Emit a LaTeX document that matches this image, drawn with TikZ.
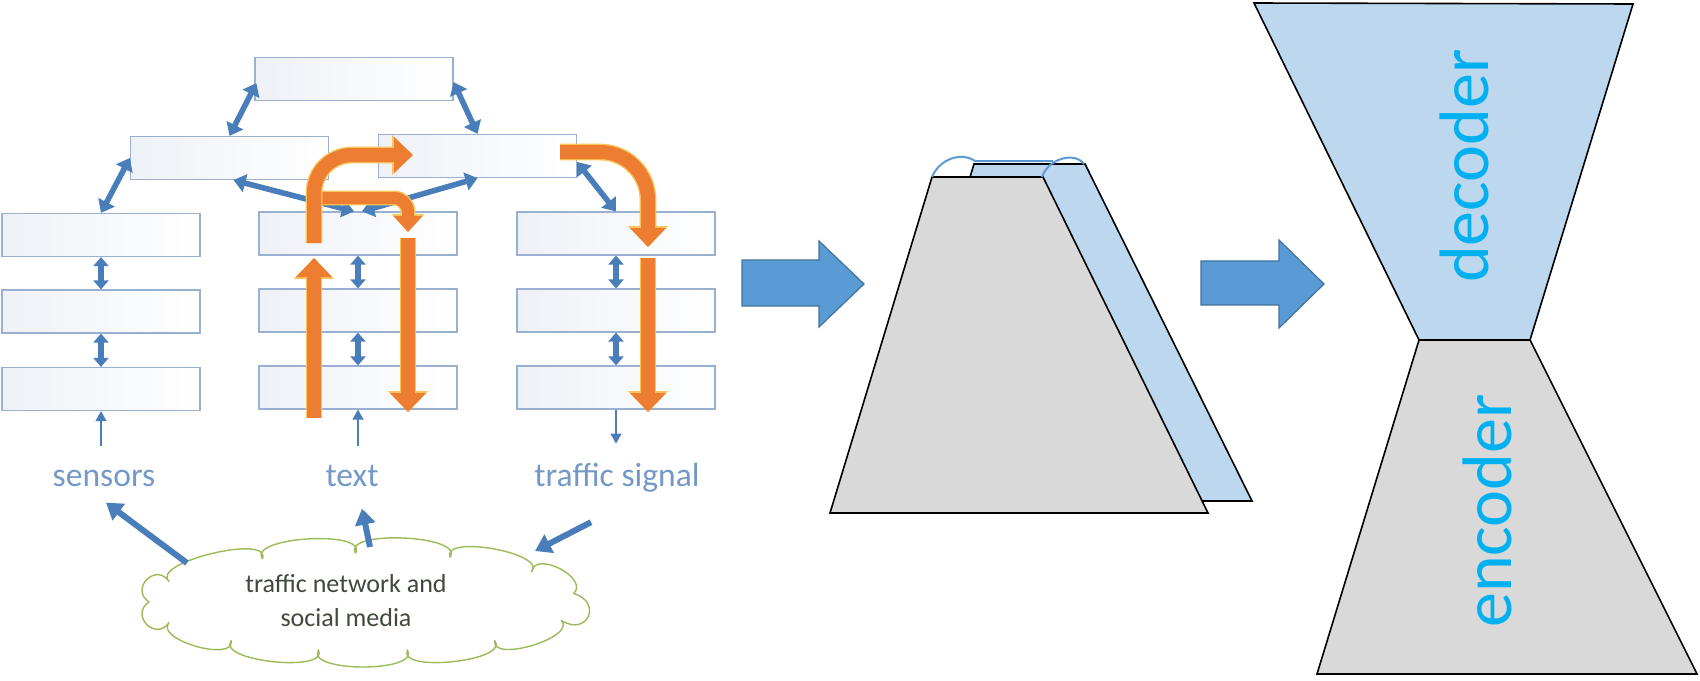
\documentclass[tikz,border=0pt]{standalone}
\usepackage{fontspec}
\setmainfont{Carlito}
\usetikzlibrary{arrows.meta,calc}
\definecolor{boxline}{HTML}{9AB0D0}
\definecolor{boxfill}{HTML}{EEF1F7}
\definecolor{linkblue}{HTML}{4A7EBB}
\definecolor{lblblue}{HTML}{7499C6}
\definecolor{orng}{HTML}{ED7D31}
\definecolor{orngedge}{HTML}{F9C55A}
\definecolor{cloudline}{HTML}{9BBB59}
\definecolor{cloudtext}{HTML}{3F4A3C}
\definecolor{blockfill}{HTML}{5B9BD5}
\definecolor{blockline}{HTML}{41719C}
\definecolor{paleblue}{HTML}{BDD7EE}
\definecolor{palegray}{HTML}{D9D9D9}
\definecolor{cyantext}{HTML}{00B0F0}
\definecolor{rimblue}{HTML}{5B9BD5}
\begin{document}
\begin{tikzpicture}[x=0.5pt,y=-0.5pt,
  layerbox/.style={draw=boxline, line width=0.6pt, left color=boxfill, right color=white,
    minimum width=99pt, minimum height=21.5pt, inner sep=0pt},
  linkarrow/.style={draw=linkblue, line width=2.8pt,
    arrows={Triangle[length=6pt,width=9pt]-Triangle[length=6pt,width=9pt]}},
  rowarrow/.style={draw=linkblue, line width=2.6pt,
    arrows={Triangle[length=4.5pt,width=7.5pt]-Triangle[length=4.5pt,width=7.5pt]}},
  thinarrow/.style={draw=linkblue, line width=0.6pt, arrows={-Triangle[length=5pt,width=5.5pt]}},
  cloudarrow/.style={draw=linkblue, line width=3pt, arrows={-Triangle[length=8pt,width=10pt]}},
  orangeedge/.style={draw=orngedge, line width=8.4pt, arrows={-Triangle[length=10.5pt,width=19.5pt]}},
  orangebody/.style={draw=orng, line width=7pt, arrows={-Triangle[length=9.5pt,width=17.5pt]}},
  orangeedgesm/.style={draw=orngedge, line width=7.4pt, arrows={-Triangle[length=9pt,width=16pt]}},
  orangebodysm/.style={draw=orng, line width=6pt, arrows={-Triangle[length=8pt,width=14pt]}},
  lbl/.style={font=\fontsize{16.8}{20}\selectfont, text=lblblue, inner sep=2pt, anchor=base},
  cloudtxt/.style={font=\fontsize{13}{17}\selectfont, text=cloudtext, align=center, inner sep=0pt},
  cloudshape/.style={draw=cloudline, fill=white, line width=0.7pt, line join=round},
  blockarrow/.style={fill=blockfill, draw=blockline, line width=0.6pt},
  trapline/.style={draw=black, line width=0.8pt, line join=miter},
  rimline/.style={draw=rimblue, line width=1pt},
  bigword/.style={font=\fontsize{35}{41}\selectfont, text=cyantext, rotate=90, anchor=base, inner sep=0pt}
]
\useasboundingbox (0,0) rectangle (1700,680);

% ---------- layered boxes ----------
\node[layerbox] (T)  at (354,79) {};
\node[layerbox] (L2) at (229.5,158) {};
\node[layerbox] (R2) at (477.5,156) {};
\node[layerbox] (C1a) at (101,235) {};
\node[layerbox] (C1b) at (101,311.5) {};
\node[layerbox] (C1c) at (101,389) {};
\node[layerbox] (C2a) at (358,233.5) {};
\node[layerbox] (C2b) at (358,310.5) {};
\node[layerbox] (C2c) at (358,387.5) {};
\node[layerbox] (C3a) at (616,233.5) {};
\node[layerbox] (C3b) at (616,310.5) {};
\node[layerbox] (C3c) at (616,387.5) {};

% ---------- blue links ----------
\draw[linkarrow] ($(T.south west)+(2,-18)$) -- (L2.north);
\draw[linkarrow] ($(T.south east)+(0,-19)$) -- (R2.north);
\draw[linkarrow] (L2.west) -- (C1a.north);
\draw[linkarrow] ($(C2a.north)+(-4,0)$) -- ($(L2.south)+(4,0)$);
\draw[linkarrow] ($(C2a.north)+(4,0)$) -- (R2.south);
\draw[linkarrow] ($(R2.east)+(0,6)$) -- (C3a.north);
\draw[rowarrow] (C1a) -- (C1b);
\draw[rowarrow] (C1b) -- (C1c);
\draw[rowarrow] (C2a) -- (C2b);
\draw[rowarrow] (C2b) -- (C2c);
\draw[rowarrow] (C3a) -- (C3b);
\draw[rowarrow] (C3b) -- (C3c);
\draw[thinarrow] ($(C1c.south)+(0,35)$) -- (C1c.south);
\draw[thinarrow] ($(C2c.south)+(0,36)$) -- (C2c.south);
\draw[thinarrow] (C3c.south) -- ++(0,34);

% ---------- orange arrows ----------
\coordinate (oB0) at (318,198);
\coordinate (oB1) at (408,198);
\coordinate (oB2) at (408,232);
\draw[orangeedgesm, rounded corners=7pt] (oB0) -- (oB1) -- (oB2);
\draw[orangebodysm, rounded corners=7pt] (oB0) -- (oB1) -- (oB2);

\coordinate (oA0) at (314,418);
\coordinate (oA1) at (314,258);
\draw[orangeedge] (oA0) -- (oA1);
\draw[orangebody] (oA0) -- (oA1);
\coordinate (oA2) at (314,243);
\coordinate (oA3) at (314,155);
\coordinate (oA4) at (413,155);
\draw[orangeedge, rounded corners=19pt] (oA2) -- (oA3) -- (oA4);
\draw[orangebody, rounded corners=19pt] (oA2) -- (oA3) -- (oA4);

\coordinate (oC0) at (408,238);
\coordinate (oC1) at (408,412);
\draw[orangeedge] (oC0) -- (oC1);
\draw[orangebody] (oC0) -- (oC1);

\coordinate (oD0) at (560,152);
\coordinate (oD1) at (648,152);
\coordinate (oD2) at (648,247);
\draw[orangeedge, rounded corners=24pt] (oD0) -- (oD1) -- (oD2);
\draw[orangebody, rounded corners=24pt] (oD0) -- (oD1) -- (oD2);

\coordinate (oE0) at (648,258);
\coordinate (oE1) at (648,412);
\draw[orangeedge] (oE0) -- (oE1);
\draw[orangebody] (oE0) -- (oE1);

% ---------- labels ----------
\node[lbl] (sens) at (104,486) {sensors};
\node[lbl] (txt)  at (352,486) {text};
\node[lbl] (sig)  at (617,486) {traffic signal};

% ---------- cloud ----------
\path[cloudshape] (169.0,581.3)
  .. controls (149.7,562.7) and (271.2,533.3) .. (262.5,558.7)
  .. controls (247.1,536.95) and (368.1,529.55) .. (355.5,553.0)
  .. controls (342.3,529.6) and (465.2,535.0) .. (450.0,557.2)
  .. controls (441.5,534.1) and (547.5,553.1) .. (531.6,571.8)
  .. controls (534.9,549.8) and (589.6,578.1) .. (573.7,593.5)
  .. controls (603.1,602.2) and (587.2,637.1) .. (561.4,620.4)
  .. controls (577.4,637.2) and (490.8,663.4) .. (494.8,640.6)
  .. controls (510.2,661.1) and (396.7,673.2) .. (407.5,649.9)
  .. controls (420.9,672.7) and (305.1,672.7) .. (318.5,649.9)
  .. controls (329.3,673.2) and (215.8,661.1) .. (231.2,640.6)
  .. controls (234.9,662.8) and (154.1,639.5) .. (169.0,622.7)
  .. controls (155.5,641.8) and (129.5,614.9) .. (149.0,602.0)
  .. controls (129.5,589.1) and (155.5,562.2) .. (169.0,581.3) -- cycle;
\node[cloudtxt] (cldtext) at (346,601) {traffic network and\\social media};

\coordinate (cs) at (187,563);
\coordinate (ct) at (370,547);
\coordinate (cg) at (535,551);
\draw[cloudarrow] (cs) -- ($(sens.south)+(2,12)$);
\draw[cloudarrow] (ct) -- ($(txt.south)+(10,18)$);
\draw[cloudarrow] ($(sig.south)+(-26,26)$) -- (cg);

% ---------- block arrows ----------
\draw[blockarrow] (742,260) -- (819,260) -- (819,241) -- (864,284) -- (819,327) -- (819,306) -- (742,306) -- cycle;
\draw[blockarrow] (1201,261) -- (1279,261) -- (1279,240) -- (1324,284) -- (1279,328) -- (1279,305) -- (1201,305) -- cycle;

% ---------- stacked trapezoids ----------
\draw[trapline, fill=paleblue] (974,164) -- (1085,164) -- (1252,501) -- (872,501) -- cycle;
\draw[trapline, fill=palegray] (932,177) -- (1043,177) -- (1208,513) -- (830,513) -- cycle;
\draw[rimline] (932,177) .. controls (940,158) and (962,152) .. (975,161) -- (1053,161);
\draw[rimline] (1042,177) .. controls (1048,159) and (1074,151) .. (1084,164);

% ---------- encoder / decoder ----------
\draw[trapline, fill=paleblue] (1254,3) -- (1633,4) -- (1530,340) -- (1419,340) -- cycle;
\draw[trapline, fill=palegray] (1419,340) -- (1530,340) -- (1697,674) -- (1317,674) -- cycle;
\node[bigword] (dec) at (1488,166) {decoder};
\node[bigword] (enc) at (1511,511) {encoder};
\end{tikzpicture}
\end{document}
